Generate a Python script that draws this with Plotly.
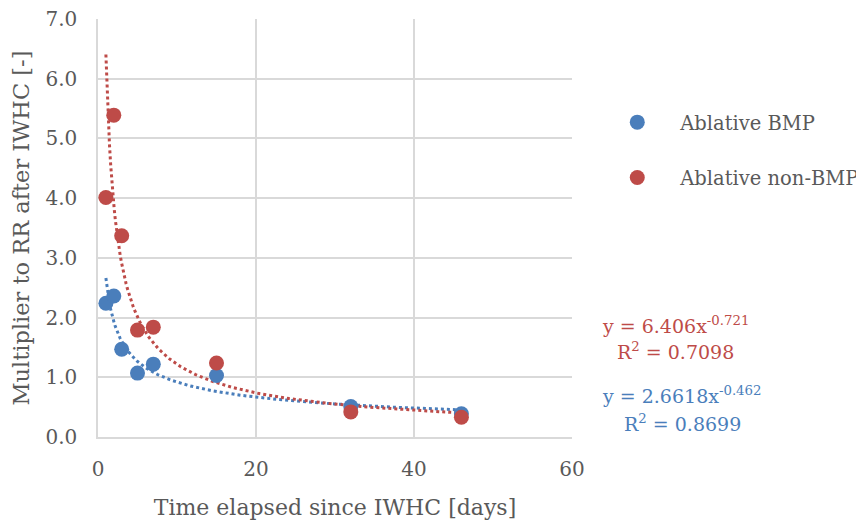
import numpy as np
import plotly.graph_objects as go

days = [1, 2, 3, 5, 7, 15, 32, 46]
bmp = [2.24, 2.36, 1.47, 1.07, 1.22, 1.03, 0.51, 0.39]
non_bmp = [4.01, 5.39, 3.37, 1.79, 1.84, 1.24, 0.42, 0.33]

# power trendline coefficients (y = a * x^b) as shown in chart
bmp_fit = (2.6618, -0.462)
non_bmp_fit = (6.406, -0.721)

x_ticks = [0, 20, 40, 60]
y_ticks = [0, 1, 2, 3, 4, 5, 6, 7]

BLUE = "#4A7EBB"
RED = "#BE4B48"
GRAY = "#595959"
FONT = "DejaVu Serif"

xt = np.linspace(min(days), max(days), 300)

fig = go.Figure()
fig.add_trace(go.Scatter(x=xt, y=bmp_fit[0] * xt ** bmp_fit[1], mode="lines",
                         line=dict(color=BLUE, width=3, dash="dot"), showlegend=False,
                         hoverinfo="skip"))
fig.add_trace(go.Scatter(x=xt, y=non_bmp_fit[0] * xt ** non_bmp_fit[1], mode="lines",
                         line=dict(color=RED, width=3, dash="dot"), showlegend=False,
                         hoverinfo="skip"))
fig.add_trace(go.Scatter(x=days, y=bmp, mode="markers", name="Ablative BMP",
                         marker=dict(color=BLUE, size=15), legendgroup="a"))
fig.add_trace(go.Scatter(x=days, y=non_bmp, mode="markers", name="Ablative non-BMP",
                         marker=dict(color=RED, size=15), legendgroup="b"))

PW, PH = 474, 418
X0, Y0 = 97.7, 437  # on-screen origin of plot area


def px(X):
    return (X - X0) / PW


def py(Y):
    return (Y0 - Y) / PH


fig.update_layout(
    width=864, height=523,
    margin=dict(l=90, r=864 - 90 - PW, t=11, b=523 - 11 - PH, autoexpand=False),
    paper_bgcolor="white", plot_bgcolor="white",
    font=dict(family=FONT, color=GRAY, size=19),
    legend=dict(x=1.047, y=py(150), xanchor="left", yanchor="middle",
                font=dict(size=19.5, color=GRAY), tracegroupgap=27,
                traceorder="grouped", itemwidth=76),
    xaxis=dict(range=[0, 60], tickvals=x_ticks, ticktext=[str(v) for v in x_ticks],
               showgrid=True, gridcolor="#D9D9D9", gridwidth=1.5,
               showline=True, linecolor="#D9D9D9", linewidth=1.5,
               zeroline=False, ticks="", tickfont=dict(size=20), automargin=False,
               ticklabelstandoff=13, ticklabeloverflow="allow",
               title=dict(text="Time elapsed since IWHC [days]", font=dict(size=22), standoff=20)),
    yaxis=dict(range=[0, 7], tickvals=y_ticks, ticktext=[f"{v:.1f}" for v in y_ticks],
               showgrid=True, gridcolor="#D9D9D9", gridwidth=1.5,
               showline=True, linecolor="#D9D9D9", linewidth=1.5,
               zeroline=False, ticks="", tickfont=dict(size=20), automargin=False,
               ticklabelstandoff=15, ticklabeloverflow="allow",
               title=dict(text="Multiplier to RR after IWHC [-]", font=dict(size=22.5), standoff=17)),
)

fig.add_annotation(xref="paper", yref="paper", x=px(600), y=py(325), xanchor="left",
                   yanchor="middle", showarrow=False,
                   text=f"y = {non_bmp_fit[0]}x<sup>{non_bmp_fit[1]}</sup>",
                   font=dict(color=RED, size=19))
fig.add_annotation(xref="paper", yref="paper", x=px(615), y=py(351), xanchor="left",
                   yanchor="middle", showarrow=False, text="R<sup>2</sup> = 0.7098",
                   font=dict(color=RED, size=19))
fig.add_annotation(xref="paper", yref="paper", x=px(600), y=py(395), xanchor="left",
                   yanchor="middle", showarrow=False,
                   text=f"y = {bmp_fit[0]}x<sup>{bmp_fit[1]}</sup>",
                   font=dict(color=BLUE, size=19))
fig.add_annotation(xref="paper", yref="paper", x=px(622), y=py(423), xanchor="left",
                   yanchor="middle", showarrow=False, text="R<sup>2</sup> = 0.8699",
                   font=dict(color=BLUE, size=19))

fig.write_html("out.html")
